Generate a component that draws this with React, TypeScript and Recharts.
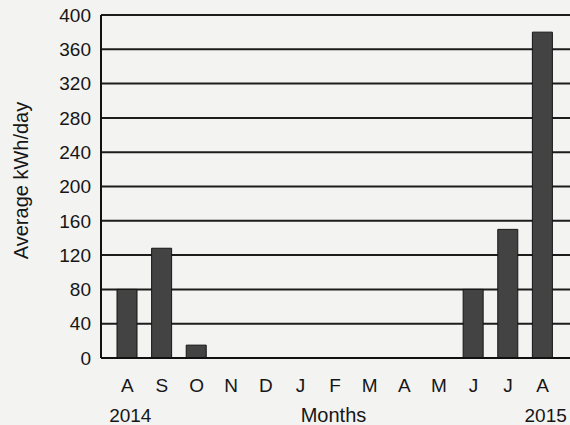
import { Bar, BarChart, CartesianGrid, Label, XAxis, YAxis } from "recharts";

const MONTHS = ["A", "S", "O", "N", "D", "J", "F", "M", "A", "M", "J", "J", "A"];
const YEARS = ["2014", "", "", "", "", "", "", "", "", "", "", "", "2015"];
const KWH_PER_DAY = [80, 128, 15, 0, 0, 0, 0, 0, 0, 0, 80, 150, 380];
const Y_TICKS = [0, 40, 80, 120, 160, 200, 240, 280, 320, 360, 400];

const data = MONTHS.map((m, i) => ({ key: `${m}${i}`, month: m, year: YEARS[i], kwh: KWH_PER_DAY[i] }));

const FONT = "'Liberation Sans', Arial, sans-serif";
const INK = "#161616";

function MonthTick(props: any) {
  const { x, y, payload } = props;
  const row = data[payload.index];
  return (
    <g>
      <text x={x} y={y + 13} dy="0.71em" textAnchor="middle" fontSize={19} fill={INK} fontFamily={FONT}>
        {row.month}
      </text>
      {row.year && (
        <text x={x + 3} y={y + 43} dy="0.71em" textAnchor="middle" fontSize={19} fill={INK} fontFamily={FONT}>
          {row.year}
        </text>
      )}
    </g>
  );
}

export default function App() {
  return (
    <div style={{ position: "absolute", left: 0, top: 0, width: 570, height: 425, overflow: "hidden", background: "#f3f3f1" }}>
      <BarChart width={580} height={425} data={data} margin={{ top: 15, right: 0, bottom: 0, left: 0 }}>
        <CartesianGrid vertical={false} stroke="#1c1c1c" strokeWidth={2} strokeOpacity={1} />
        <XAxis
          dataKey="key"
          interval={0}
          height={67}
          padding={{ left: 9, right: 20 }}
          axisLine={{ stroke: "#111", strokeWidth: 2 }}
          tickLine={false}
          tick={<MonthTick />}
        >
          <Label value="Months" position="insideBottom" offset={3} dx={-7} fontSize={20} fill={INK} fontFamily={FONT} />
        </XAxis>
        <YAxis
          domain={[0, 400]}
          ticks={Y_TICKS}
          interval={0}
          width={101}
          tickSize={0}
          tickMargin={10}
          axisLine={{ stroke: "#111", strokeWidth: 2 }}
          tickLine={false}
          tick={{ fontSize: 19, fill: INK, fontFamily: FONT }}
        >
          <Label
            value="Average kWh/day"
            angle={-90}
            position="insideLeft"
            offset={21}
            dy={-6}
            fontSize={20}
            fill={INK}
            fontFamily={FONT}
            style={{ textAnchor: "middle" }}
          />
        </YAxis>
        <Bar dataKey="kwh" barSize={20} fill="#434343" stroke="#151515" strokeWidth={1} isAnimationActive={false} />
      </BarChart>
    </div>
  );
}
